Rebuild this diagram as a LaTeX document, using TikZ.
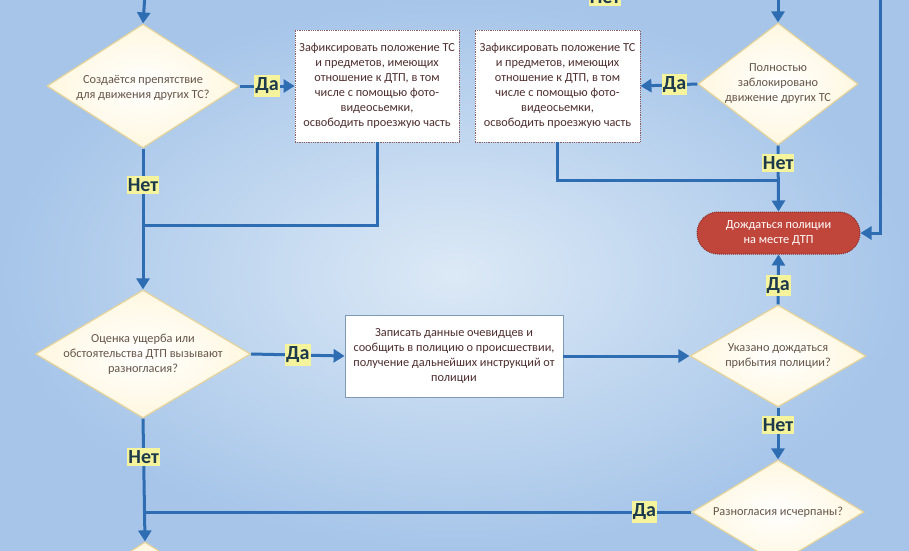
\documentclass[tikz,border=0pt]{standalone}
\usepackage{fontspec}
\setmainfont{Carlito}
\usetikzlibrary{shapes.geometric,arrows.meta,calc}
\newfontfamily\shapefont{Carlito}
\newcommand{\smallfnt}{\shapefont\fontsize{12.3}{15}\selectfont}
\newcommand{\labfnt}{\shapefont\bfseries\fontsize{20}{22}\selectfont}
\definecolor{lineblue}{HTML}{2F6DB3}
\definecolor{labyellow}{HTML}{F5F39B}
\definecolor{labtext}{HTML}{1C3A4C}
\definecolor{diaborder}{HTML}{E5D39A}
\definecolor{diaedge}{HTML}{FFF7E0}
\definecolor{diatext}{HTML}{66564A}
\definecolor{boxborder}{HTML}{8E5E5E}
\definecolor{boxtext}{HTML}{4E2E2E}
\definecolor{box2border}{HTML}{7F9AB5}
\definecolor{termfill}{HTML}{C0463B}
\definecolor{termborder}{HTML}{8A2B24}
\definecolor{bginner}{HTML}{DCE9F6}
\definecolor{bgouter}{HTML}{A6C5E9}
\tikzset{
  conn/.style={draw=lineblue, line width=3pt},
  arr/.style={conn, -{Triangle[length=11pt,width=13pt]}},
  lab/.style={fill=labyellow, text=labtext, font=\labfnt, inner xsep=1pt, inner ysep=2.5pt},
  dia/.style={diamond, draw=diaborder, line width=1.2pt, inner color=white, outer color=diaedge,
     inner sep=0pt},
  diatxt/.style={text=diatext, font=\smallfnt, align=center, inner sep=0pt},
  dotbox/.style={rectangle, draw=boxborder, densely dotted, line width=0.8pt, fill=white,
     text=boxtext, font=\smallfnt, align=center, inner sep=2pt},
  plainbox/.style={rectangle, draw=box2border, line width=0.8pt, fill=white,
     text=boxtext, font=\smallfnt, align=center, inner sep=2pt},
  term/.style={rectangle, rounded corners=21pt, draw=termborder, densely dotted, line width=1pt,
     fill=termfill, text=white, font=\smallfnt, align=center}
}
\begin{document}
\begin{tikzpicture}[x=1pt,y=-1pt]
\useasboundingbox (0,0) rectangle (909,550);
\clip (0,0) rectangle (909,550);
\shade[inner color=bginner, outer color=bgouter] (0,0) rectangle (909,550);

% shapes
\node[dia, minimum width=192pt, minimum height=124pt, aspect=1.55] (d1) at (143,86) {};
\node[diatxt] (d1t) at (143,88) {Создаётся препятствие\\для движения других ТС?};
\node[dotbox, minimum width=164pt, minimum height=112pt] (b1) at (377,86)
  {Зафиксировать положение ТС\\и предметов, имеющих\\отношение к ДТП, в том\\числе с помощью фото-\\видеосьемки,\\освободить проезжую часть};
\node[dia, minimum width=160pt, minimum height=122pt, aspect=1.31] (d5) at (778,84) {};
\node[diatxt] (d5t) at (d5.center) {Полностью\\заблокировано\\движение других ТС};
\node[dotbox, minimum width=165pt, minimum height=112pt] (b3) at (557.5,86)
  {Зафиксировать положение ТС\\и предметов, имеющих\\отношение к ДТП, в том\\числе с помощью фото-\\видеосьемки,\\освободить проезжую часть};
\node[term, minimum width=163pt, minimum height=42pt] (t) at (778.5,233)
  {Дождаться полиции\\на месте ДТП};
\node[dia, minimum width=215pt, minimum height=128pt, aspect=1.68] (d2) at (143,354) {};
\node[diatxt] (d2t) at (d2.center) {Оценка ущерба или\\обстоятельства ДТП вызывают\\разногласия?};
\node[plainbox, minimum width=218pt, minimum height=82pt] (b2) at (454,356)
  {Записать данные очевидцев и\\сообщить в полицию о происшествии,\\получение дальнейших инструкций от\\полиции};
\node[dia, minimum width=176pt, minimum height=102pt, aspect=1.73] (d3) at (778,356) {};
\node[diatxt] (d3t) at (d3.center) {Указано дождаться\\прибытия полиции?};
\node[dia, minimum width=172pt, minimum height=104pt, aspect=1.65] (d4) at (778,512) {};
\node[diatxt] (d4t) at (d4.center) {Разногласия исчерпаны?};
\node[dia, minimum width=190pt, minimum height=120pt, aspect=1.58] (d6) at (145,602) {};

% free ends
\coordinate (tl) at (145,-6);
\coordinate (tr) at (778,-6);
\coordinate (rr) at (880,-6);
\coordinate (j1) at (145,225);
\coordinate (j2) at (145,512);
\coordinate (j3) at (778,180);

% connectors
\draw[arr] (tl) -- (d1.north);
\draw[arr] (d1.east) -- node[lab]{Да} (b1.west);
\draw[arr] (d1.south) -- node[lab, pos=0.26]{Нет} (d2.north);
\draw[conn] (b1.south) |- (j1);
\draw[arr] (d2.east) -- node[lab]{Да} (b2.west);
\draw[arr] (b2.east) -- (d3.west);
\draw[arr] (d3.north) -- node[lab, pos=0.37]{Да} (t.south);
\draw[arr] (d3.south) -- node[lab, pos=0.34]{Нет} (d4.north);
\draw[conn] (d4.west) -- node[lab, pos=0.086]{Да} (j2);
\draw[arr] (d2.south) -- node[lab, pos=0.31]{Нет} (d6.north);
\draw[arr] (tr) -- (d5.north);
\draw[arr] (d5.west) -- node[lab, pos=0.4]{Да} (b3.east);
\draw[arr] (d5.south) -- node[lab, pos=0.27]{Нет} (t.north);
\draw[conn] (b3.south) |- (j3);
\draw[arr] (rr) |- (t.east);
\node[lab] (ntop) at (605,-3) {Нет};
\end{tikzpicture}
\end{document}
